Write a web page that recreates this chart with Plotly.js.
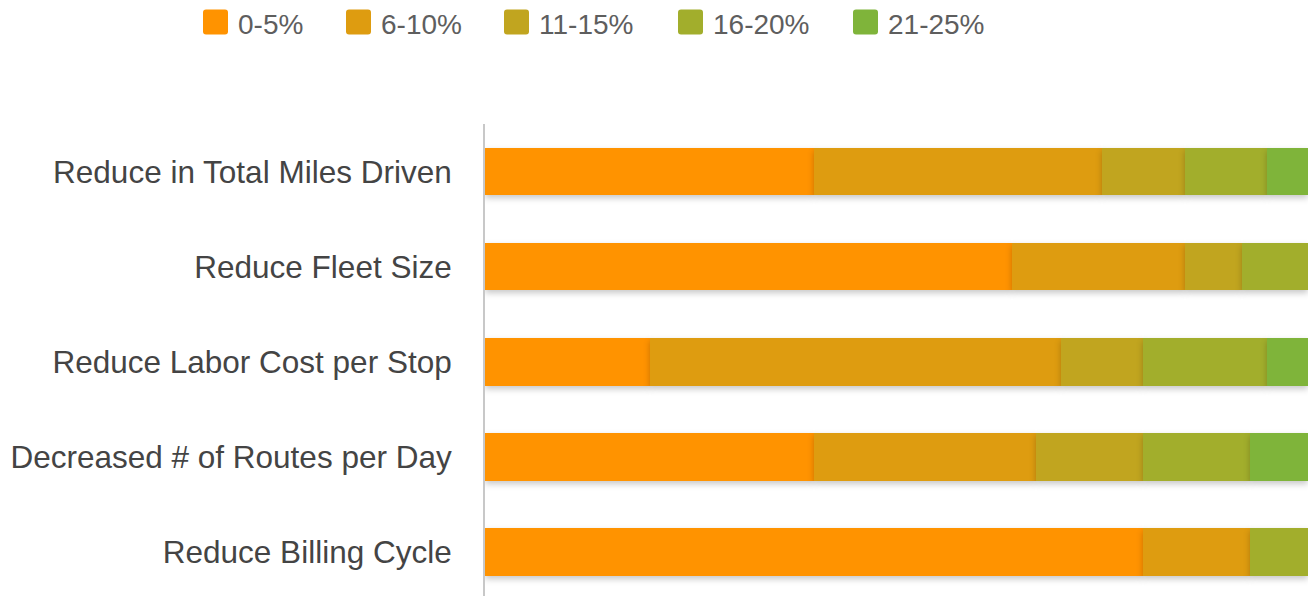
<!DOCTYPE html>
<html>
<head>
<meta charset="utf-8">
<script src="https://cdn.plot.ly/plotly-3.0.1.min.js"></script>
<style>
  html, body { margin: 0; padding: 0; background: #fff; }
  #chart { width: 1313px; height: 596px; }
  #chart .barlayer .point path { filter: drop-shadow(0px 3px 3px rgba(0,0,0,0.22)); }
</style>
</head>
<body>
<div id="chart"></div>
<script>
const categories = [
  'Reduce in Total Miles Driven',
  'Reduce Fleet Size',
  'Reduce Labor Cost per Stop',
  'Decreased # of Routes per Day',
  'Reduce Billing Cycle'
];
const seriesNames = ['0-5%', '6-10%', '11-15%', '16-20%', '21-25%'];
const s0to5   = [40, 64, 20, 40, 80];
const s6to10  = [35, 21, 50, 27, 13];
const s11to15 = [10, 7, 10, 13, 0];
const s16to20 = [10, 8, 15, 13, 7];
const s21to25 = [5, 0, 5, 7, 0];
const seriesValues = [s0to5, s6to10, s11to15, s16to20, s21to25];
const colors = ['#FF9300', '#DE9C10', '#C1A51F', '#A2AE2C', '#7FB43A'];

const W = 1313, H = 596;
const M = {l: 485, r: 5, t: 124, b: 0};
const PW = W - M.l - M.r, PH = H - M.t - M.b;
const px2x = p => (p - M.l) / PW;
const px2y = p => 1 - (p - M.t) / PH;

const traces = seriesNames.map((name, i) => ({
  type: 'bar',
  orientation: 'h',
  name: name,
  y: categories,
  x: seriesValues[i],
  marker: {color: colors[i], line: {width: 0}},
  showlegend: false,
  hoverinfo: 'name+x'
}));

// custom legend (large rounded swatches like the original)
const swatchLeft = [203, 346, 504, 678, 853];
const swatchSize = 25, swatchTop = 9.5, rr = 3;
const shapes = [];
const annotations = [];
seriesNames.forEach((name, i) => {
  const x0 = swatchLeft[i], x1 = x0 + swatchSize;
  const y0 = swatchTop, y1 = swatchTop + swatchSize;
  const X = px2x, Y = px2y;
  const path = `M ${X(x0 + rr)} ${Y(y0)} L ${X(x1 - rr)} ${Y(y0)} Q ${X(x1)} ${Y(y0)} ${X(x1)} ${Y(y0 + rr)} ` +
               `L ${X(x1)} ${Y(y1 - rr)} Q ${X(x1)} ${Y(y1)} ${X(x1 - rr)} ${Y(y1)} ` +
               `L ${X(x0 + rr)} ${Y(y1)} Q ${X(x0)} ${Y(y1)} ${X(x0)} ${Y(y1 - rr)} ` +
               `L ${X(x0)} ${Y(y0 + rr)} Q ${X(x0)} ${Y(y0)} ${X(x0 + rr)} ${Y(y0)} Z`;
  shapes.push({type: 'path', xref: 'paper', yref: 'paper', path: path,
    fillcolor: colors[i], line: {width: 0}});
  annotations.push({xref: 'paper', yref: 'paper', x: px2x(x1 + 8), y: px2y(24),
    xanchor: 'left', yanchor: 'middle', text: name, showarrow: false,
    font: {family: 'Liberation Sans, Arial, sans-serif', size: 28, color: '#5e5e5e'}});
});

const layout = {
  width: W, height: H,
  margin: M,
  paper_bgcolor: '#ffffff',
  plot_bgcolor: '#ffffff',
  barmode: 'stack',
  bargap: 0.5,
  showlegend: false,
  font: {family: 'Liberation Sans, Arial, sans-serif'},
  xaxis: {range: [0, 100], showgrid: false, zeroline: false, showline: false,
          showticklabels: false, ticks: '', fixedrange: true},
  yaxis: {type: 'category', categoryorder: 'array', categoryarray: categories,
          range: [4.463, -0.5], showgrid: false, zeroline: false,
          showline: true, linecolor: '#c8c8c8', linewidth: 2, ticks: '',
          ticklabelstandoff: 25,
          tickfont: {size: 31.5, color: '#444444', family: 'Liberation Sans, Arial, sans-serif'},
          fixedrange: true},
  shapes: shapes,
  annotations: annotations
};

Plotly.newPlot('chart', traces, layout, {displayModeBar: false, staticPlot: true});
</script>
</body>
</html>
